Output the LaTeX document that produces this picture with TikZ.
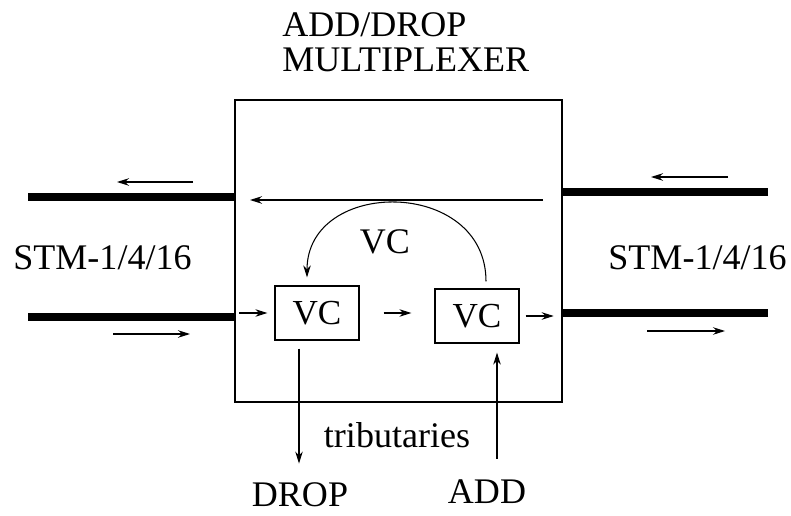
\documentclass[tikz,border=0pt]{standalone}
\usepackage{fontspec}
\setmainfont{Liberation Serif}
\usetikzlibrary{arrows.meta, positioning}

\begin{document}
\begin{tikzpicture}[
    box/.style={rectangle, draw, line width=0.8pt, inner sep=0pt},
    vcbox/.style={rectangle, draw, line width=0.7pt, minimum width=1.68cm, minimum height=1.08cm, font=\fontsize{20}{22}\selectfont},
    arrow/.style={-{Stealth[length=2.4mm, width=1.5mm]}, line width=0.6pt},
    trunk/.style={line width=4.6pt},
    label/.style={font=\fontsize{20.5}{20}\selectfont, inner sep=0pt}
]
\useasboundingbox (0,0) rectangle (15.82,10.3);

\node[box, minimum width=6.54cm, minimum height=6.04cm] (mux) at (7.97,5.28) {};
\node[vcbox] (vc1) at (6.34,4.04) {VC};
\node[vcbox] (vc2) at (9.54,3.98) {VC};

\node[label, anchor=west, align=left] (title) at (5.64,9.45) {ADD/DROP\\MULTIPLEXER};
\node[label] (stmleft) at (2.05,5.14) {STM-1/4/16};
\node[label] (stmright) at (13.95,5.14) {STM-1/4/16};
\node[label] (vclabel) at (7.7,5.46) {VC};
\node[label] (trib) at (7.94,1.60) {tributaries};
\node[label] (drop) at (6.0,0.40) {DROP};
\node[label] (add) at (9.74,0.46) {ADD};

% trunk lines
\coordinate (lt) at (0.56,6.36);
\coordinate (lb) at (0.56,3.96);
\coordinate (rt) at (15.36,6.46);
\coordinate (rb) at (15.36,4.04);
\draw[trunk] (lt) -- (lt -| mux.west);
\draw[trunk] (lb) -- (lb -| mux.west);
\draw[trunk] (rt) -- (rt -| mux.east);
\draw[trunk] (rb) -- (rb -| mux.east);

% direction arrows
\coordinate (ltA) at (3.86,6.66);
\coordinate (ltB) at (2.34,6.66);
\coordinate (lbA) at (2.26,3.62);
\coordinate (lbB) at (3.80,3.62);
\coordinate (rtA) at (14.56,6.76);
\coordinate (rtB) at (13.02,6.76);
\coordinate (rbA) at (12.94,3.68);
\coordinate (rbB) at (14.50,3.68);
\draw[arrow] (ltA) -- (ltB);
\draw[arrow] (lbA) -- (lbB);
\draw[arrow] (rtA) -- (rtB);
\draw[arrow] (rbA) -- (rbB);

% through path and add/drop
\coordinate (thru) at (10.86,6.30);
\draw[arrow] (thru) -- (5.0,6.30);
\draw[arrow, shorten <=0.14cm, shorten >=0.16cm] ([xshift=0.18cm]vc2.north) .. controls (9.72,6.75) and (6.14,6.75) .. ([xshift=-0.2cm]vc1.north);
\draw[arrow, shorten <=0.1cm, shorten >=0.14cm] (mux.west |- vc1.west) -- (vc1.west);
\draw[arrow, shorten <=0.48cm, shorten >=0.46cm] (vc1.east) -- (vc1.east -| vc2.west);
\draw[arrow, shorten <=0.12cm, shorten >=0.18cm] (vc2.east) -- (vc2.east -| mux.east);
\draw[arrow, shorten <=0.16cm, shorten >=0.38cm] ([xshift=-0.36cm]vc1.south) -- ([xshift=-0.36cm]vc1.south |- drop.north);
\draw[arrow, shorten <=0.42cm, shorten >=0.18cm] ([xshift=0.4cm]vc2.south |- add.north) -- ([xshift=0.4cm]vc2.south);

\end{tikzpicture}
\end{document}
